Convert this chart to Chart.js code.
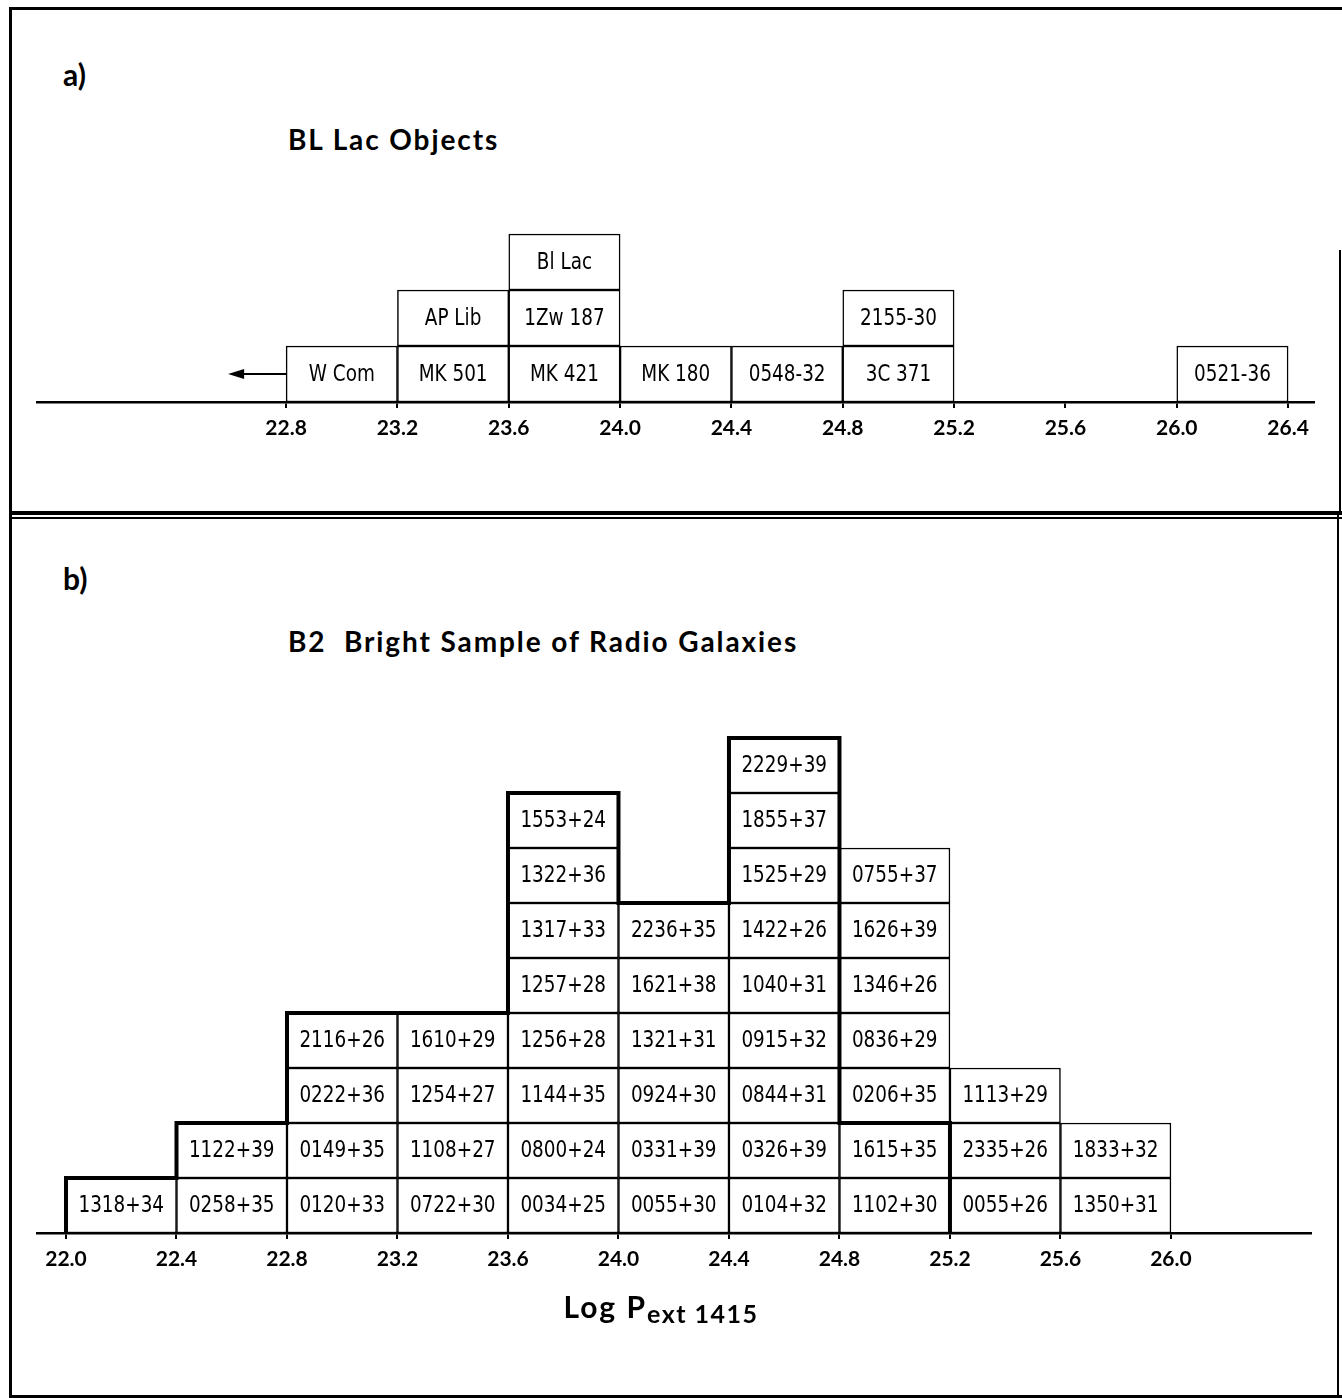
<!DOCTYPE html>
<html>
<head>
<meta charset="utf-8">
<title>BL Lac objects and B2 radio galaxies</title>
<script src="https://cdn.jsdelivr.net/npm/chart.js@4.4.0/dist/chart.umd.min.js"></script>
<style>
  body { margin: 0; background: #fff; }
  #page { position: relative; width: 1342px; height: 1398px; overflow: hidden; background: #fff; color: #000; font-family: Lato, "DejaVu Sans", sans-serif; }
  .rule { position: absolute; background: #000; }
  .txt { position: absolute; font-weight: 700; white-space: nowrap; font-size: 28px; line-height: 28px; letter-spacing: 1.9px; }
  .tag { font-size: 30px; line-height: 30px; letter-spacing: 0; }
  canvas { position: absolute; left: 0; }
  #xtitle { left: 661px; top: 1291px; transform: translateX(-50%); font-size: 30px; line-height: 30px; letter-spacing: 2px; }
  #xtitle span { font-size: 25px; vertical-align: -5px; letter-spacing: 1.5px; }
</style>
</head>
<body>
<div id="page">
  <!-- frame -->
  <div class="rule" style="left:9px;top:7px;width:1333px;height:3px"></div>
  <div class="rule" style="left:9px;top:7px;width:3px;height:1391px"></div>
  <div class="rule" style="left:1339px;top:250px;width:2px;height:263px"></div>
  <div class="rule" style="left:9px;top:511px;width:1333px;height:4px"></div>
  <div class="rule" style="left:9px;top:517px;width:1333px;height:2px"></div>
  <div class="rule" style="left:1337px;top:515px;width:2px;height:883px"></div>
  <div class="rule" style="left:9px;top:1395px;width:1333px;height:3px"></div>

  <div class="txt tag" style="left:63px;top:59px">a)</div>
  <div class="txt" style="left:288px;top:125px">BL Lac Objects</div>
  <canvas id="blLac" width="1342" height="330" style="top:150px;width:1342px;height:330px"></canvas>

  <div class="txt tag" style="left:63px;top:563px">b)</div>
  <div class="txt" style="left:288px;top:627px">B2&nbsp; Bright Sample of Radio Galaxies</div>
  <canvas id="b2" width="1342" height="700" style="top:650px;width:1342px;height:700px"></canvas>
  <div class="txt" id="xtitle">Log P<span>ext 1415</span></div>
</div>
<script>
// bins are 0.4 wide in log P; each bin lists its objects from the bottom box up
const binWidth = 0.4;

const blLacBinStarts = [22.8, 23.2, 23.6, 24.0, 24.4, 24.8, 26.0];
const blLacNames = [
    ['W Com'],
    ['MK 501', 'AP Lib'],
    ['MK 421', '1Zw 187', 'Bl Lac'],
    ['MK 180'],
    ['0548-32'],
    ['3C 371', '2155-30'],
    ['0521-36']
];
const blLacUpperLimits = ['W Com'];
const blLacTicks = [22.8, 23.2, 23.6, 24.0, 24.4, 24.8, 25.2, 25.6, 26.0, 26.4];

const b2BinStarts = [22.0, 22.4, 22.8, 23.2, 23.6, 24.0, 24.4, 24.8, 25.2, 25.6];
const b2Names = [
    ['1318+34'],
    ['0258+35', '1122+39'],
    ['0120+33', '0149+35', '0222+36', '2116+26'],
    ['0722+30', '1108+27', '1254+27', '1610+29'],
    ['0034+25', '0800+24', '1144+35', '1256+28', '1257+28', '1317+33', '1322+36', '1553+24'],
    ['0055+30', '0331+39', '0924+30', '1321+31', '1621+38', '2236+35'],
    ['0104+32', '0326+39', '0844+31', '0915+32', '1040+31', '1422+26', '1525+29', '1855+37', '2229+39'],
    ['1102+30', '1615+35', '0206+35', '0836+29', '1346+26', '1626+39', '0755+37'],
    ['0055+26', '2335+26', '1113+29'],
    ['1350+31', '1833+32']
];
// heavy outline: counts of the sub-sample drawn with a thick line
const b2Outline = [1, 2, 4, 4, 8, 6, 9, 2, 0, 0];
const b2Ticks = [22.0, 22.4, 22.8, 23.2, 23.6, 24.0, 24.4, 24.8, 25.2, 25.6, 26.0];

// one dataset per row of boxes, every box a floating bar [row, row + 1]
function boxDatasets(starts, names) {
    const rows = Math.max(...names.map(n => n.length));
    const sets = [];
    for (let r = 0; r < rows; r++) {
        const data = [];
        starts.forEach((s, i) => {
            if (names[i][r]) data.push({ x: s + binWidth / 2, y: [r, r + 1], name: names[i][r] });
        });
        sets.push({
            data: data,
            backgroundColor: '#fff',
            borderColor: '#000',
            borderWidth: 1.5,
            borderSkipped: false,
            grouped: false,
            barPercentage: 1,
            categoryPercentage: 1
        });
    }
    return sets;
}

// names written inside the boxes
const boxLabels = {
    id: 'boxLabels',
    afterDatasetsDraw(chart) {
        const ctx = chart.ctx;
        ctx.save();
        ctx.fillStyle = '#000';
        ctx.font = '23px "DejaVu Sans"';
        ctx.textAlign = 'center';
        ctx.textBaseline = 'middle';
        chart.data.datasets.forEach((ds, d) => {
            chart.getDatasetMeta(d).data.forEach((bar, i) => {
                ctx.save();
                ctx.translate(bar.x, (bar.y + bar.base) / 2 + 1);
                ctx.scale(0.8, 1);
                ctx.fillText(ds.data[i].name, 0, 0);
                ctx.restore();
            });
        });
        ctx.restore();
    }
};

// thick stepped envelope over the boxes
function outlinePlugin(starts, heights) {
    return {
        id: 'outline',
        afterDatasetsDraw(chart) {
            const x = chart.scales.x, y = chart.scales.y, ctx = chart.ctx;
            let last = heights.length - 1;
            while (last > 0 && !heights[last]) last--;
            ctx.save();
            ctx.beginPath();
            ctx.moveTo(x.getPixelForValue(starts[0]), y.getPixelForValue(0));
            for (let i = 0; i <= last; i++) {
                const h = y.getPixelForValue(heights[i]);
                ctx.lineTo(x.getPixelForValue(starts[i]), h);
                ctx.lineTo(x.getPixelForValue(starts[i] + binWidth), h);
            }
            ctx.lineTo(x.getPixelForValue(starts[last] + binWidth), y.getPixelForValue(0));
            ctx.lineWidth = 4;
            ctx.lineJoin = 'miter';
            ctx.strokeStyle = '#000';
            ctx.stroke();
            ctx.restore();
        }
    };
}

// left arrows on upper limits
function arrowPlugin(limits) {
    return {
        id: 'arrows',
        afterDatasetsDraw(chart) {
            const ctx = chart.ctx;
            ctx.save();
            ctx.strokeStyle = '#000';
            ctx.fillStyle = '#000';
            ctx.lineWidth = 2;
            chart.data.datasets.forEach((ds, d) => {
                chart.getDatasetMeta(d).data.forEach((bar, i) => {
                    if (!limits.includes(ds.data[i].name)) return;
                    const x0 = bar.x - bar.width / 2;
                    const yc = (bar.y + bar.base) / 2;
                    ctx.beginPath();
                    ctx.moveTo(x0, yc);
                    ctx.lineTo(x0 - 44, yc);
                    ctx.stroke();
                    ctx.beginPath();
                    ctx.moveTo(x0 - 58, yc);
                    ctx.lineTo(x0 - 42, yc - 5);
                    ctx.lineTo(x0 - 42, yc + 5);
                    ctx.closePath();
                    ctx.fill();
                });
            });
            ctx.restore();
        }
    };
}

function drawPanel(id, starts, names, ticks, xMin, xMax, right, yMax, padBottom, extra) {
    return new Chart(document.getElementById(id), {
        type: 'bar',
        data: { datasets: boxDatasets(starts, names) },
        options: {
            responsive: false,
            animation: false,
            events: [],
            layout: { padding: { left: 37, right: 1342 - right, top: 0, bottom: padBottom } },
            scales: {
                x: {
                    type: 'linear',
                    min: xMin,
                    max: xMax,
                    offset: false,
                    afterBuildTicks: s => { s.ticks = ticks.map(v => ({ value: v })); },
                    afterFit: s => { s.height = 60; },
                    border: { display: true, color: '#000', width: 2.5 },
                    grid: { offset: false, drawOnChartArea: false, color: '#000', lineWidth: 2, tickLength: 6 },
                    ticks: {
                        color: '#000',
                        padding: 8,
                        autoSkip: false,
                        maxRotation: 0,
                        font: { family: 'Lato', weight: 'bold', size: 21 },
                        callback: v => v.toFixed(1)
                    }
                },
                y: { display: false, min: 0, max: yMax }
            },
            plugins: {
                legend: { display: false },
                tooltip: { enabled: false }
            }
        },
        plugins: [boxLabels].concat(extra)
    });
}

drawPanel('blLac', blLacBinStarts, blLacNames, blLacTicks, 21.905, 26.493, 1314, 4.5, 18,
    [arrowPlugin(blLacUpperLimits)]);
drawPanel('b2', b2BinStarts, b2Names, b2Ticks, 21.895, 26.507, 1311, 10.6, 57,
    [outlinePlugin(b2BinStarts, b2Outline)]);
</script>
</body>
</html>
